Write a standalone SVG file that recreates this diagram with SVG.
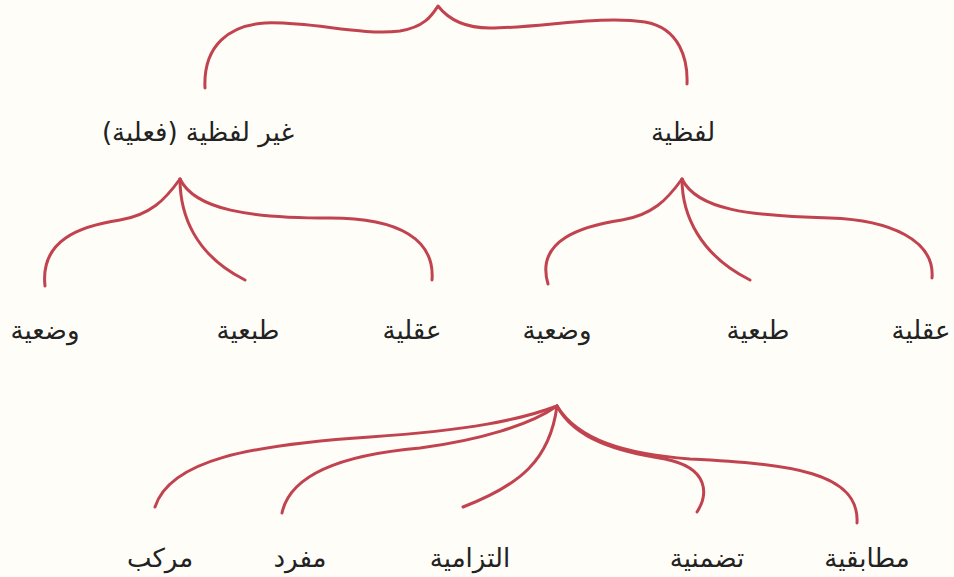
<svg xmlns="http://www.w3.org/2000/svg" width="954" height="577" viewBox="0 0 954 577">
<style>
.c{fill:none;stroke:#c1434f;stroke-width:3;stroke-linecap:round;stroke-linejoin:round}
.t{font-family:"DejaVu Sans",sans-serif;font-size:26px;fill:#222;text-anchor:middle;direction:rtl}
</style>
<rect width="954" height="577" fill="#fefdf8"/>
<g id="connectors">
<path class="c" d="M205,88 C203,45 230,25 265,23 C310,21 360,36 400,31 C425,27 432,15 438,6 C445,15 460,28 490,28 C540,28 600,15 645,22 C680,28 688,60 687,84"/>
<path class="c" d="M180,179 C165,200 150,215 120,220 C80,226 40,240 45,286"/>
<path class="c" d="M180,179 C180,215 195,255 245,280"/>
<path class="c" d="M180,179 C195,210 250,218 330,218 C400,218 435,240 432,280"/>
<path class="c" d="M682,179 C667,200 652,215 622,220 C582,226 535,240 548,284"/>
<path class="c" d="M682,179 C682,215 700,255 750,280"/>
<path class="c" d="M682,179 C697,210 750,216 830,218 C890,220 935,240 932,278"/>
<path class="c" d="M557,406 C520,420 470,430 370,437 C250,445 170,460 155,507"/>
<path class="c" d="M557,406 C530,425 480,440 420,448 C340,455 290,475 282,513"/>
<path class="c" d="M557,406 C550,460 520,485 463,507"/>
<path class="c" d="M557,406 C575,440 620,452 665,459 C710,468 708,495 697,512"/>
<path class="c" d="M557,406 C578,440 625,454 690,459 C790,464 860,472 857,523"/>
</g>
<g id="n-root-verbal"><text class="t" x="683" y="141">لفظية</text></g>
<g id="n-root-nonverbal"><text class="t" x="198" y="141">غير لفظية (فعلية)</text></g>
<g id="n-l-wadiya"><text class="t" x="45" y="339">وضعية</text></g>
<g id="n-l-tabiya"><text class="t" x="248" y="339">طبعية</text></g>
<g id="n-l-aqliya"><text class="t" x="412" y="339">عقلية</text></g>
<g id="n-r-wadiya"><text class="t" x="557" y="339">وضعية</text></g>
<g id="n-r-tabiya"><text class="t" x="758" y="339">طبعية</text></g>
<g id="n-r-aqliya"><text class="t" x="921" y="339">عقلية</text></g>
<g id="n-murakkab"><text class="t" x="160" y="567">مركب</text></g>
<g id="n-mufrad"><text class="t" x="300" y="567">مفرد</text></g>
<g id="n-iltizamiya"><text class="t" x="470" y="567">التزامية</text></g>
<g id="n-tadammuniya"><text class="t" x="707" y="567">تضمنية</text></g>
<g id="n-mutabaqa"><text class="t" x="867" y="567">مطابقية</text></g>
</svg>
